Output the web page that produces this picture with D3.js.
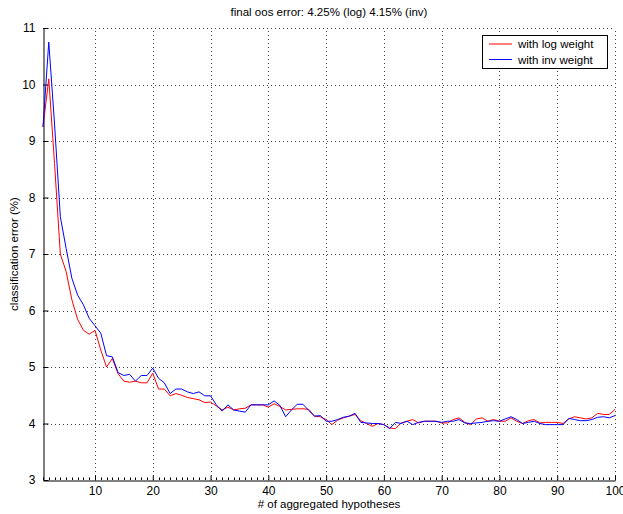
<!DOCTYPE html>
<html><head><meta charset="utf-8">
<script src="https://cdn.jsdelivr.net/npm/d3@7"></script>
<style>body{margin:0;background:#fff}svg{display:block}text{font-family:"Liberation Sans",Arial,sans-serif}</style>
</head><body>
<svg id="c" width="623" height="514"></svg>
<script>
const title = "final oos error: 4.25% (log) 4.15% (inv)";
const xLabel = "# of aggregated hypotheses";
const yLabel = "classification error (%)";
const seriesNames = ["with log weight", "with inv weight"];
const seriesColors = ["#ff0000", "#0000ff"];
const xTicks = [10,20,30,40,50,60,70,80,90,100];
const yTicks = [3,4,5,6,7,8,9,10,11];
const logWeight = [9.25,10.1,8.6,7.0,6.69,6.19,5.84,5.65,5.58,5.65,
5.3,5.0,5.15,4.88,4.75,4.73,4.75,4.72,4.72,4.89,
4.61,4.61,4.49,4.53,4.50,4.46,4.44,4.42,4.37,4.38,
4.31,4.24,4.29,4.24,4.26,4.27,4.33,4.33,4.33,4.29,
4.35,4.30,4.24,4.25,4.26,4.26,4.25,4.13,4.12,4.07,
3.98,4.06,4.10,4.13,4.16,4.05,4.00,3.95,4.00,3.98,
3.92,3.91,4.01,4.04,4.07,4.01,4.04,4.04,4.04,4.01,
4.01,4.07,4.10,4.02,3.98,4.08,4.10,4.04,4.07,4.04,
4.04,4.10,4.04,4.00,4.05,4.07,4.01,4.02,4.02,4.02,
4.00,4.08,4.12,4.10,4.08,4.10,4.18,4.16,4.16,4.25];
const invWeight = [9.25,10.75,9.3,7.66,7.1,6.57,6.27,6.1,5.86,5.73,
5.6,5.2,5.18,4.9,4.85,4.87,4.75,4.85,4.85,4.98,
4.80,4.72,4.53,4.61,4.61,4.56,4.53,4.56,4.49,4.49,
4.33,4.22,4.33,4.24,4.22,4.20,4.33,4.33,4.33,4.33,
4.40,4.32,4.12,4.24,4.34,4.34,4.23,4.13,4.14,4.04,
4.04,4.07,4.11,4.13,4.18,4.02,4.01,4.00,4.00,3.98,
3.91,4.02,4.00,4.04,3.98,4.02,4.04,4.04,4.04,4.02,
4.04,4.04,4.07,4.01,4.00,4.01,4.02,4.04,4.05,4.04,
4.08,4.12,4.07,4.00,4.02,4.04,4.00,3.98,3.98,3.98,
3.98,4.09,4.07,4.05,4.05,4.07,4.11,4.12,4.10,4.14];

const L=43, R=615, T=28, B=480;
const svg = d3.select("#c");
const x = d3.scaleLinear().domain([1,100]).range([L,R]);
const y = d3.scaleLinear().domain([3,11]).range([B,T]);

// grid
const grid = svg.append("g").attr("stroke","#444").attr("stroke-width",1).attr("stroke-dasharray","1,3").attr("fill","none");
xTicks.forEach(t=>grid.append("line").attr("x1",Math.round(x(t))+0.5).attr("x2",Math.round(x(t))+0.5).attr("y1",B).attr("y2",T));
yTicks.slice(1).forEach(t=>grid.append("line").attr("x1",L).attr("x2",R).attr("y1",Math.round(y(t))+0.5).attr("y2",Math.round(y(t))+0.5));

// axes
const xAxis = d3.axisBottom(x).tickValues(xTicks).tickSize(-5).tickPadding(6).tickSizeOuter(0);
const gx = svg.append("g").attr("transform",`translate(0,${B+0.5})`).call(xAxis);
const yAxis = d3.axisLeft(y).tickValues(yTicks).tickSize(-5).tickPadding(8).tickSizeOuter(0);
const gy = svg.append("g").attr("transform",`translate(${L+0.5},0)`).call(yAxis);
[gx,gy].forEach(g=>{
  g.select(".domain").attr("stroke","#000");
  g.selectAll(".tick line").attr("stroke","#000");
  g.selectAll(".tick text").attr("font-size",12).attr("fill","#000").attr("font-family","'Liberation Sans',Arial,sans-serif");
});
// minor ticks on x
const minor = d3.range(1,101).filter(v=>!xTicks.includes(v));
svg.append("g").selectAll("line").data(minor).join("line")
  .attr("x1",d=>Math.round(x(d))+0.5).attr("x2",d=>Math.round(x(d))+0.5)
  .attr("y1",B).attr("y2",B-2.5).attr("stroke","#000");

// lines
const xs = d3.range(1,101);
const line = d3.line().x((d,i)=>x(xs[i])).y(d=>y(d));
[logWeight, invWeight].forEach((s,k)=>{
  svg.append("path").datum(s).attr("d",line).attr("fill","none")
    .attr("stroke",seriesColors[k]).attr("stroke-width",1);
});

// legend
const lg = svg.append("g");
lg.append("rect").attr("x",482.5).attr("y",35.5).attr("width",125).attr("height",33)
  .attr("fill","#fff").attr("stroke","#000");
seriesNames.forEach((n,k)=>{
  const yy = 44 + k*15.5;
  lg.append("line").attr("x1",489).attr("x2",512).attr("y1",yy).attr("y2",yy).attr("stroke",seriesColors[k]);
  lg.append("text").attr("x",518).attr("y",yy+4).attr("font-size",11.5).text(n);
});

// labels
svg.append("text").attr("x",329).attr("y",16).attr("text-anchor","middle").attr("font-size",11.5).text(title);
svg.append("text").attr("x",329).attr("y",508).attr("text-anchor","middle").attr("font-size",11.5).text(xLabel);
svg.append("text").attr("transform","translate(18,254) rotate(-90)").attr("text-anchor","middle").attr("font-size",11.5).text(yLabel);
</script>
</body></html>
